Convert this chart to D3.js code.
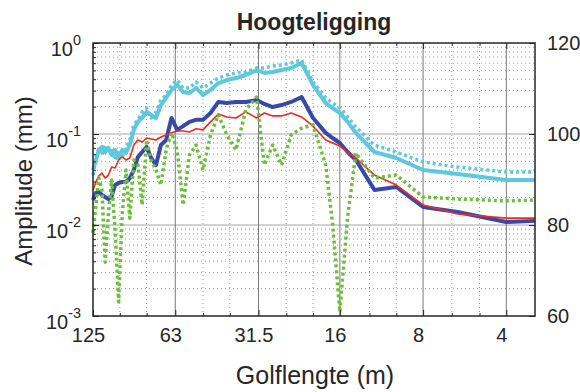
<!DOCTYPE html>
<html lang="nl">
<head>
<meta charset="utf-8">
<title>Hoogteligging</title>
<script src="https://d3js.org/d3.v7.min.js"></script>
<style>
  body { margin: 0; background: #fff; }
  text { font-family: "Liberation Sans", Arial, sans-serif; fill: #262626; }
</style>
</head>
<body>
<svg width="580" height="392"></svg>
<script>
// golflengte (m) per meetpunt
var golflengte = [125,122,119,116,113,110,107,104,101,98,95,92,89,86,83,80,77,74,71,68,65,62,59,56,53,50,47,44,41,38,35,32,
                  30,28,26,24,22,20,18,17,16,15,14,12,10,8,6,4,3.15];

// amplitudes (mm)
var cyaanVol = [0.0402,0.0518,0.0667,0.0720,0.0634,0.0702,0.0588,0.0667,0.0545,0.0667,0.0618,0.0757,0.111,0.136,0.150,0.175,0.162,0.150,0.208,0.249,0.305,0.345,0.289,0.282,0.320,0.268,0.305,0.363,0.392,0.412,0.445,0.505,
                0.468,0.480,0.505,0.531,0.603,0.345,0.219,0.193,0.170,0.136,0.103,0.0634,0.0545,0.0402,0.0363,0.0312,0.0312];
var cyaanStip = [0.0354,0.0545,0.0702,0.0588,0.0757,0.0634,0.0702,0.0518,0.0667,0.0559,0.0702,0.0859,0.126,0.143,0.175,0.193,0.150,0.175,0.236,0.268,0.345,0.392,0.320,0.320,0.373,0.320,0.363,0.412,0.445,0.468,0.480,0.531,
                 0.531,0.559,0.573,0.603,0.650,0.373,0.249,0.219,0.193,0.154,0.119,0.0757,0.0634,0.0492,0.0434,0.0382,0.0382];
var blauw = [0.0188,0.0225,0.0231,0.0214,0.0203,0.0193,0.0208,0.0275,0.0290,0.0297,0.0297,0.0328,0.0402,0.0559,0.0634,0.0720,0.0545,0.0456,0.0757,0.0859,0.150,0.111,0.122,0.136,0.143,0.143,0.170,0.225,0.219,0.225,0.225,0.236,
             0.214,0.198,0.208,0.225,0.255,0.150,0.103,0.0904,0.0796,0.0634,0.0518,0.0243,0.0262,0.0158,0.0139,0.0108,0.0111];
var rood = [0.0243,0.0297,0.0346,0.0373,0.0328,0.0354,0.0434,0.0423,0.0518,0.0559,0.0518,0.0545,0.0757,0.0859,0.0817,0.0904,0.0881,0.0859,0.0927,0.0975,0.103,0.108,0.108,0.105,0.114,0.111,0.136,0.166,0.154,0.150,0.175,0.150,
            0.170,0.158,0.158,0.170,0.154,0.122,0.0859,0.0796,0.0738,0.0634,0.0545,0.0354,0.0275,0.0166,0.0132,0.0119,0.0119];
var groen = [0.0082,0.0166,0.0328,0.0243,0.0039,0.0129,0.0312,0.0088,0.00143,0.0129,0.0402,0.0119,0.0518,0.0456,0.0166,0.0859,0.0518,0.0402,0.0275,0.0667,0.103,0.0667,0.0166,0.0588,0.0757,0.0402,0.0975,0.162,0.0975,0.0667,0.184,0.255,
             0.0456,0.0757,0.0456,0.0975,0.116,0.126,0.0456,0.0104,0.00111,0.0122,0.0618,0.0328,0.0354,0.0203,0.0193,0.0184,0.0188];

// as-labels
var xTicks = [125,63,31.5,16,8,4];
var xMinor = [100,80,50,40,25,20,12.5,10,6.3,5];
var yTicks = [0.001,0.01,0.1,1];
var rTicks = [60,80,100,120];

var svg = d3.select("svg");
var marge = {left:93, right:535, top:43, bottom:316};

var x = d3.scaleLog().domain([125,3.15]).range([marge.left,marge.right]);
var y = d3.scaleLog().domain([0.001,1]).range([marge.bottom,marge.top]);
var yR = d3.scaleLinear().domain([60,120]).range([marge.bottom,marge.top]);

// minor log waarden voor y
var yMinor = [];
[0.001,0.01,0.1].forEach(function(d){
    for (var k=2;k<=9;k++) yMinor.push(d*k);
});

var grid = svg.append("g");
// dotted minor grid
grid.selectAll(".hm").data(yMinor).enter().append("line")
    .attr("x1",marge.left).attr("x2",marge.right)
    .attr("y1",function(d){return y(d);}).attr("y2",function(d){return y(d);})
    .attr("stroke","#9a9a9a").attr("stroke-width",1).attr("stroke-dasharray","1,3");
grid.selectAll(".vm").data(xMinor).enter().append("line")
    .attr("y1",marge.top).attr("y2",marge.bottom)
    .attr("x1",function(d){return x(d);}).attr("x2",function(d){return x(d);})
    .attr("stroke","#9a9a9a").attr("stroke-width",1).attr("stroke-dasharray","1,3");
// major grid
grid.selectAll(".hM").data([0.01,0.1]).enter().append("line")
    .attr("x1",marge.left).attr("x2",marge.right)
    .attr("y1",function(d){return y(d);}).attr("y2",function(d){return y(d);})
    .attr("stroke","#d2d2d2").attr("stroke-width",2);
grid.selectAll(".vM").data(xTicks.slice(1)).enter().append("line")
    .attr("y1",marge.top).attr("y2",marge.bottom)
    .attr("x1",function(d){return x(d);}).attr("x2",function(d){return x(d);})
    .attr("stroke","#7a7a7a").attr("stroke-width",1);

// lijnen
var line = d3.line()
    .x(function(d,i){return x(golflengte[i]);})
    .y(function(d){return y(d);});

var series = [
    {data:cyaanVol, kleur:"#5ec8dd", dikte:4, dash:null},
    {data:cyaanStip, kleur:"#5ec8dd", dikte:3.5, dash:"3,3"},
    {data:blauw, kleur:"#3849a8", dikte:4, dash:null},
    {data:rood, kleur:"#f22a1c", dikte:1.6, dash:null},
    {data:groen, kleur:"#6cbf3c", dikte:3.5, dash:"3,3"}
];
var plot = svg.append("g");
series.forEach(function(s){
    plot.append("path")
        .attr("d",line(s.data))
        .attr("fill","none")
        .attr("stroke",s.kleur)
        .attr("stroke-width",s.dikte)
        .attr("stroke-linejoin","round")
        .attr("stroke-dasharray",s.dash);
});

// assen
function stijl(g){
    g.select(".domain").remove();
    g.selectAll("line").attr("stroke","#262626");
    g.selectAll("text").attr("fill","#262626").style("font-family","'Liberation Sans', Arial, sans-serif");
}

var xAxis = d3.axisBottom(x).tickValues(xTicks).tickFormat(function(d){return String(d);})
    .tickSize(-6).tickPadding(12);
svg.append("g").attr("transform","translate(0,"+marge.bottom+")").call(xAxis).call(stijl)
    .selectAll("text").attr("font-size",20).attr("dx",-5);
svg.append("g").attr("transform","translate(0,"+marge.bottom+")")
    .call(d3.axisBottom(x).tickValues(xMinor).tickFormat("").tickSize(-3)).call(stijl);
svg.append("g").attr("transform","translate(0,"+marge.top+")")
    .call(d3.axisTop(x).tickValues(xTicks).tickFormat("").tickSize(-6)).call(stijl);
svg.append("g").attr("transform","translate(0,"+marge.top+")")
    .call(d3.axisTop(x).tickValues(xMinor).tickFormat("").tickSize(-3)).call(stijl);

var yAxis = d3.axisLeft(y).tickValues(yTicks).tickFormat("").tickSize(-6).tickPadding(12);
var gy = svg.append("g").attr("transform","translate("+marge.left+",0)").call(yAxis).call(stijl);
gy.selectAll(".tick text")
    .attr("font-size",20).attr("dy","0.6em").attr("x",-12)
    .each(function(d){
        var t = d3.select(this);
        t.text("10");
        t.append("tspan").attr("dy","-0.75em").attr("font-size","0.72em").text(String(Math.round(Math.log10(d))));
    });
svg.append("g").attr("transform","translate("+marge.left+",0)")
    .call(d3.axisLeft(y).tickValues(yMinor).tickFormat("").tickSize(-3)).call(stijl);

var yRAxis = d3.axisRight(yR).tickValues(rTicks).tickSize(-6).tickPadding(12);
svg.append("g").attr("transform","translate("+marge.right+",0)").call(yRAxis).call(stijl)
    .selectAll("text").attr("font-size",20);

// kader
svg.append("rect")
    .attr("x",marge.left).attr("y",marge.top)
    .attr("width",marge.right-marge.left).attr("height",marge.bottom-marge.top)
    .attr("fill","none").attr("stroke","#262626").attr("stroke-width",1.5);

// titels
svg.append("text").attr("x",(marge.left+marge.right)/2).attr("y",30)
    .attr("text-anchor","middle").attr("font-size",23).attr("font-weight","bold")
    .text("Hoogteligging");
svg.append("text").attr("x",315).attr("y",384)
    .attr("text-anchor","middle").attr("font-size",25)
    .text("Golflengte (m)");
svg.append("text").attr("transform","translate(32,181) rotate(-90)")
    .attr("text-anchor","middle").attr("font-size",24)
    .text("Amplitude (mm)");
</script>
</body>
</html>
